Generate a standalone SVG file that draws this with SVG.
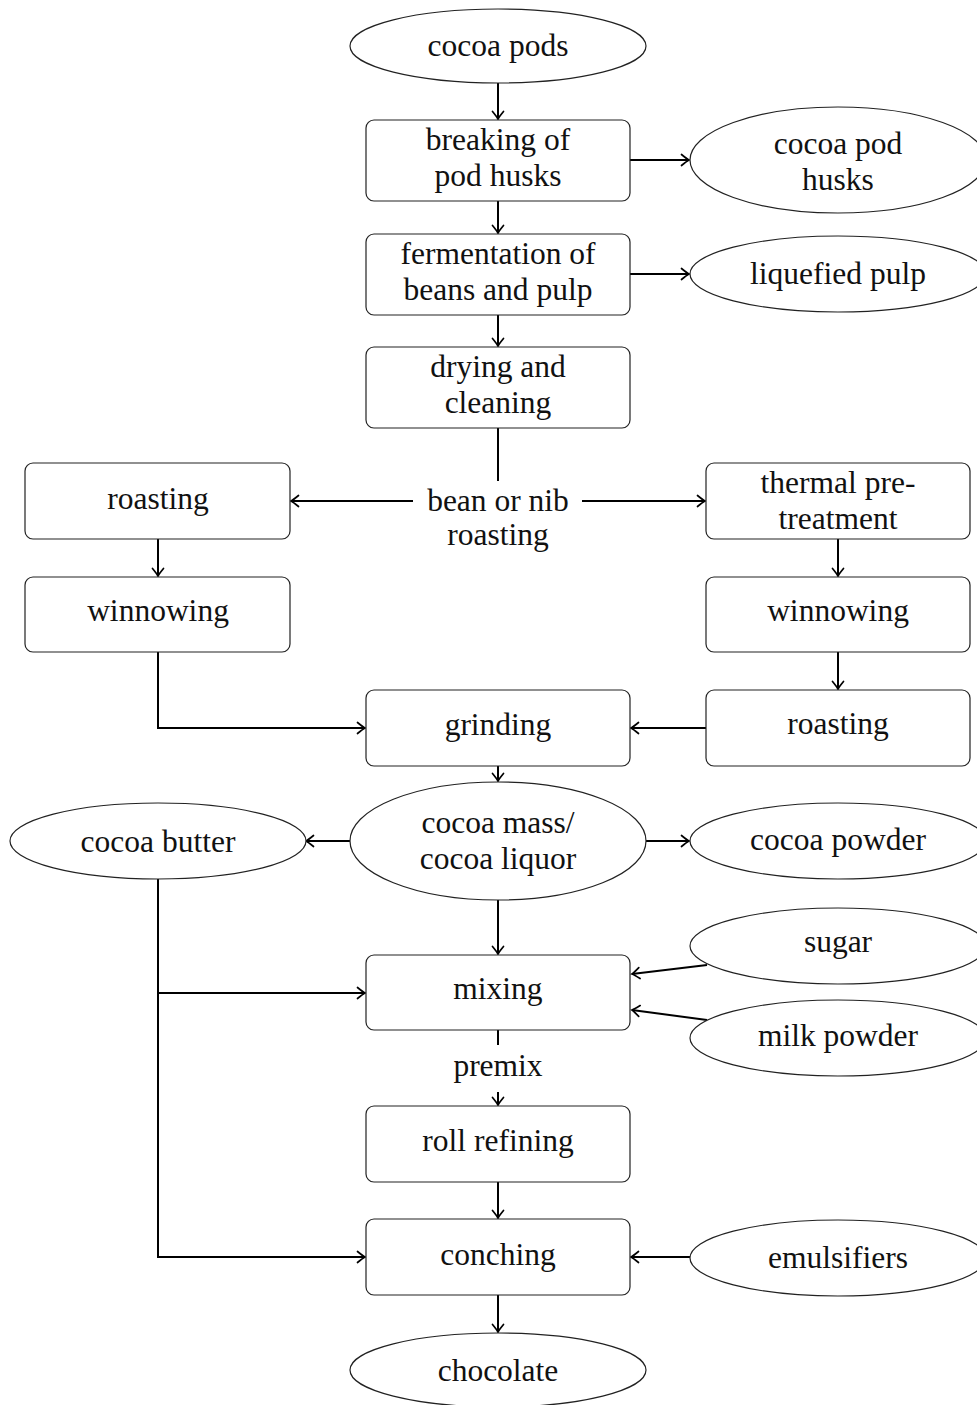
<svg xmlns="http://www.w3.org/2000/svg" width="977" height="1405" viewBox="0 0 977 1405">
<style>
.n{fill:#fff;stroke:#222;stroke-width:1.2}
.t{font-family:"Liberation Serif","DejaVu Serif",serif;font-size:31.5px;fill:#111;text-anchor:middle}
.c{fill:none;stroke:#000;stroke-width:2}
</style>
<defs>
<marker id="a" markerUnits="userSpaceOnUse" markerWidth="14" markerHeight="14" viewBox="-10 -7 12 14" refX="0" refY="0" orient="auto">
<path d="M-7.5,-5.5 Q-2,-1 0,0 Q-2,1 -7.5,5.5" fill="none" stroke="#000" stroke-width="1.7" stroke-linecap="round"/>
</marker>
</defs>
<rect width="977" height="1405" fill="#fff"/>
<g id="connectors">
<path class="c" d="M498,83 V119" marker-end="url(#a)"/>
<path class="c" d="M630,160 H689" marker-end="url(#a)"/>
<path class="c" d="M498,201 V233" marker-end="url(#a)"/>
<path class="c" d="M630,274 H689" marker-end="url(#a)"/>
<path class="c" d="M498,315 V346" marker-end="url(#a)"/>
<path class="c" d="M498,428 V481"/>
<path class="c" d="M413,501 H291" marker-end="url(#a)"/>
<path class="c" d="M582,501 H705" marker-end="url(#a)"/>
<path class="c" d="M158,539 V576" marker-end="url(#a)"/>
<path class="c" d="M838,539 V576" marker-end="url(#a)"/>
<path class="c" d="M838,652 V689" marker-end="url(#a)"/>
<path class="c" d="M158,652 V728 H365" marker-end="url(#a)"/>
<path class="c" d="M706,728 H631" marker-end="url(#a)"/>
<path class="c" d="M498,766 V781" marker-end="url(#a)"/>
<path class="c" d="M350,841 H306" marker-end="url(#a)"/>
<path class="c" d="M646,841 H689" marker-end="url(#a)"/>
<path class="c" d="M498,900 V954" marker-end="url(#a)"/>
<path class="c" d="M158,879 V1257 H365" marker-end="url(#a)"/>
<path class="c" d="M158,993 H365" marker-end="url(#a)"/>
<path class="c" d="M707,965 L632,974" marker-end="url(#a)"/>
<path class="c" d="M707,1020 L632,1010" marker-end="url(#a)"/>
<path class="c" d="M498,1030 V1045"/>
<path class="c" d="M498,1092 V1105" marker-end="url(#a)"/>
<path class="c" d="M498,1182 V1218" marker-end="url(#a)"/>
<path class="c" d="M690,1257 H631" marker-end="url(#a)"/>
<path class="c" d="M498,1295 V1332" marker-end="url(#a)"/>
</g>
<g id="cocoa-pods"><ellipse class="n" cx="498" cy="46" rx="148" ry="37"/><text class="t" x="498" y="56">cocoa pods</text></g>
<g id="breaking"><rect class="n" x="366" y="120" width="264" height="81" rx="8"/><text class="t" x="498" y="150">breaking of</text><text class="t" x="498" y="186">pod husks</text></g>
<g id="pod-husks"><ellipse class="n" cx="838" cy="160" rx="148" ry="53"/><text class="t" x="838" y="154">cocoa pod</text><text class="t" x="838" y="190">husks</text></g>
<g id="fermentation"><rect class="n" x="366" y="234" width="264" height="81" rx="8"/><text class="t" x="498" y="264">fermentation of</text><text class="t" x="498" y="300">beans and pulp</text></g>
<g id="liquefied-pulp"><ellipse class="n" cx="838" cy="274" rx="148" ry="38"/><text class="t" x="838" y="284">liquefied pulp</text></g>
<g id="drying"><rect class="n" x="366" y="347" width="264" height="81" rx="8"/><text class="t" x="498" y="377">drying and</text><text class="t" x="498" y="413">cleaning</text></g>
<g id="bean-or-nib"><text class="t" x="498" y="511">bean or nib</text><text class="t" x="498" y="545">roasting</text></g>
<g id="roasting-left"><rect class="n" x="25" y="463" width="265" height="76" rx="8"/><text class="t" x="158" y="509">roasting</text></g>
<g id="thermal"><rect class="n" x="706" y="463" width="264" height="76" rx="8"/><text class="t" x="838" y="493">thermal pre-</text><text class="t" x="838" y="529">treatment</text></g>
<g id="winnowing-left"><rect class="n" x="25" y="577" width="265" height="75" rx="8"/><text class="t" x="158" y="621">winnowing</text></g>
<g id="winnowing-right"><rect class="n" x="706" y="577" width="264" height="75" rx="8"/><text class="t" x="838" y="621">winnowing</text></g>
<g id="roasting-right"><rect class="n" x="706" y="690" width="264" height="76" rx="8"/><text class="t" x="838" y="734">roasting</text></g>
<g id="grinding"><rect class="n" x="366" y="690" width="264" height="76" rx="8"/><text class="t" x="498" y="735">grinding</text></g>
<g id="cocoa-mass"><ellipse class="n" cx="498" cy="841" rx="148" ry="59"/><text class="t" x="498" y="833">cocoa mass/</text><text class="t" x="498" y="869">cocoa liquor</text></g>
<g id="cocoa-butter"><ellipse class="n" cx="158" cy="841" rx="148" ry="38"/><text class="t" x="158" y="852">cocoa butter</text></g>
<g id="cocoa-powder"><ellipse class="n" cx="838" cy="841" rx="148" ry="38"/><text class="t" x="838" y="850">cocoa powder</text></g>
<g id="sugar"><ellipse class="n" cx="838" cy="946" rx="148" ry="38"/><text class="t" x="838" y="952">sugar</text></g>
<g id="mixing"><rect class="n" x="366" y="955" width="264" height="75" rx="8"/><text class="t" x="498" y="999">mixing</text></g>
<g id="milk-powder"><ellipse class="n" cx="838" cy="1038" rx="148" ry="38"/><text class="t" x="838" y="1046">milk powder</text></g>
<g id="premix"><text class="t" x="498" y="1076">premix</text></g>
<g id="roll-refining"><rect class="n" x="366" y="1106" width="264" height="76" rx="8"/><text class="t" x="498" y="1151">roll refining</text></g>
<g id="conching"><rect class="n" x="366" y="1219" width="264" height="76" rx="8"/><text class="t" x="498" y="1265">conching</text></g>
<g id="emulsifiers"><ellipse class="n" cx="838" cy="1258" rx="148" ry="38"/><text class="t" x="838" y="1268">emulsifiers</text></g>
<g id="chocolate"><ellipse class="n" cx="498" cy="1370" rx="148" ry="37"/><text class="t" x="498" y="1381">chocolate</text></g>
</svg>
